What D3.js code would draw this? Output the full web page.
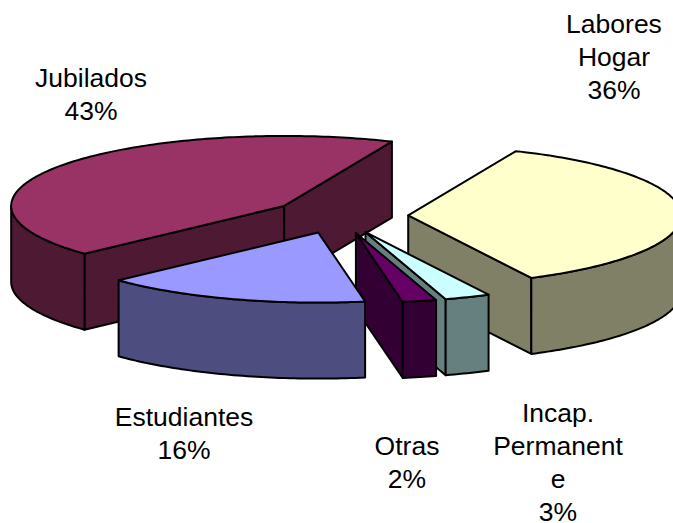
<!DOCTYPE html>
<html>
<head>
<meta charset="utf-8">
<script src="https://cdnjs.cloudflare.com/ajax/libs/d3/7.8.5/d3.min.js"></script>
<style>
html,body{margin:0;padding:0;background:#fff;overflow:hidden}
svg{display:block}
text{font-family:"Liberation Sans",Arial,sans-serif;font-size:26.5px;fill:#000;text-anchor:middle}
</style>
</head>
<body>
<svg id="chart" width="673" height="523"></svg>
<script>
// Data, clockwise from the left edge of the first slice
const categories = ["Jubilados", "Labores Hogar", "Incap. Permanente", "Otras", "Estudiantes"];
const shares = [43.4, 36.1, 2.7, 2, 15.8];
const labelLines = [
  ["Jubilados"],
  ["Labores", "Hogar"],
  ["Incap.", "Permanent", "e"],
  ["Otras"],
  ["Estudiantes"]
];

// Styling and layout (not data)
const topColors = ["#993366", "#FFFFCC", "#CCFFFF", "#660066", "#9999FF"];
const sideColors = ["#4D1933", "#808066", "#668080", "#330033", "#4D4D80"];
const labelCenters = [[91, 78], [614, 24], [558, 413], [407, 446], [184, 417]];
const W = 673, H = 523, cx = 340, cy = 216, rx = 273, ry = 70, depth = 76, explode = 0.25, lineH = 33;
const deg = Math.PI / 180;

const svg = d3.select("#chart");
const xS = d3.scaleLinear().domain([-1, 1]).range([cx - rx, cx + rx]);
const yS = d3.scaleLinear().domain([-1, 1]).range([cy - ry, cy + ry]);

const pie = d3.pie().sort(null).value(d => d)
  .startAngle(-133 * deg).endAngle(227 * deg);
const arcs = pie(shares);
const line = d3.line();

function arcPts(ox, oy, t0, t1, dz) {
  const n = Math.max(2, Math.ceil(Math.abs(t1 - t0) / (1 * deg)));
  return d3.range(n + 1).map(i => {
    const t = t0 + (t1 - t0) * i / n;
    return [ox + (xS(Math.cos(t)) - cx), oy + (yS(Math.sin(t)) - cy) + dz];
  });
}

function draw(d, color) {
  svg.append("path").attr("d", d).attr("fill", color)
    .attr("stroke", "#000").attr("stroke-width", 2)
    .attr("stroke-linejoin", "round");
}

arcs.forEach((a, i) => {
  const t0 = a.startAngle - Math.PI / 2, t1 = a.endAngle - Math.PI / 2;
  const mid = (t0 + t1) / 2;
  const ox = xS(explode * Math.cos(mid)), oy = yS(explode * Math.sin(mid));
  const apex = [ox, oy];

  // radial walls facing the viewer
  [[t0, -Math.PI / 2], [t1, Math.PI / 2]].forEach(([t, turn]) => {
    if (Math.sin(t + turn) > 0) {
      const c = arcPts(ox, oy, t, t, 0)[0];
      draw(line([apex, c, [c[0], c[1] + depth], [apex[0], apex[1] + depth]]) + "Z", sideColors[i]);
    }
  });

  // outer rim: the part of the arc on the near side of the ellipse
  const base = Math.floor(t0 / (2 * Math.PI)) * 2 * Math.PI;
  [0, 2 * Math.PI].forEach(shift => {
    const from = Math.max(t0, base + shift), to = Math.min(t1, base + shift + Math.PI);
    if (to > from) {
      const upper = arcPts(ox, oy, from, to, 0);
      const lower = arcPts(ox, oy, to, from, depth);
      draw(line(upper.concat(lower)) + "Z", sideColors[i]);
    }
  });

  // top face
  draw(line([apex].concat(arcPts(ox, oy, t0, t1, 0))) + "Z", topColors[i]);
});

// Labels
arcs.forEach((a, i) => {
  const lines = labelLines[i].concat(d3.format(".0f")(a.data) + "%");
  const [lx, ly] = labelCenters[i];
  const t = svg.append("text").attr("aria-label", categories[i]);
  lines.forEach((s, k) => {
    t.append("tspan").attr("x", lx).attr("y", ly + k * lineH).attr("dy", "0.35em").text(s);
  });
});
</script>
</body>
</html>
